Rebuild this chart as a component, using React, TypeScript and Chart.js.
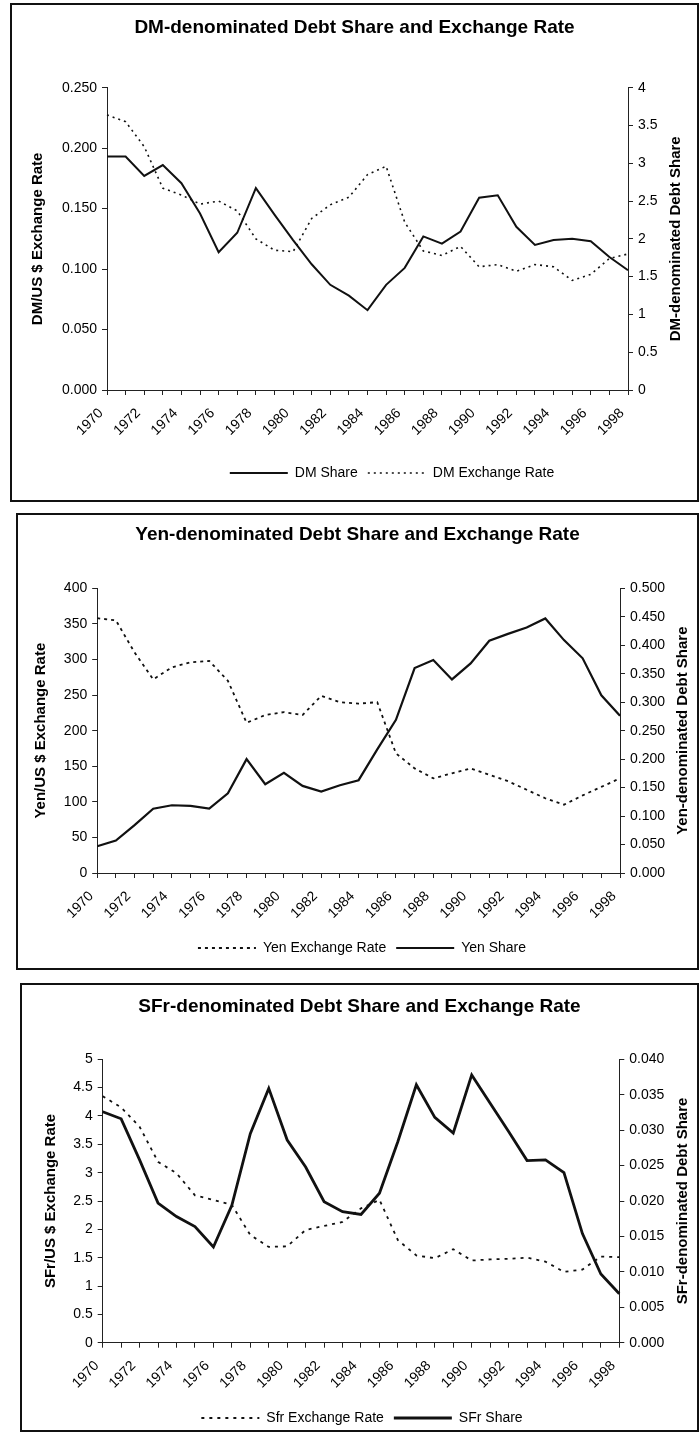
import React, { useEffect, useRef } from 'react';
import { Chart, registerables } from 'chart.js';

Chart.register(...registerables);

const FONT = '"Liberation Sans", Arial, Helvetica, sans-serif';

// ---------- data ----------
const years = [
  '1970', '1971', '1972', '1973', '1974', '1975', '1976', '1977', '1978', '1979',
  '1980', '1981', '1982', '1983', '1984', '1985', '1986', '1987', '1988', '1989',
  '1990', '1991', '1992', '1993', '1994', '1995', '1996', '1997', '1998',
];
// every other year is labelled on the x axis
const shownYearLabels = ['1970', '1972', '1974', '1976', '1978', '1980', '1982', '1984', '1986', '1988', '1990', '1992', '1994', '1996', '1998'];

const dmShare = [0.193, 0.193, 0.177, 0.186, 0.171, 0.146, 0.114, 0.130, 0.167, 0.145, 0.124, 0.104, 0.087, 0.078, 0.066, 0.087, 0.101, 0.127, 0.121, 0.131, 0.159, 0.161, 0.135, 0.120, 0.124, 0.125, 0.123, 0.110, 0.099];
const dmExchangeRate = [3.64, 3.55, 3.22, 2.67, 2.58, 2.46, 2.50, 2.37, 2.00, 1.85, 1.83, 2.27, 2.45, 2.55, 2.85, 2.96, 2.22, 1.84, 1.78, 1.90, 1.63, 1.66, 1.57, 1.66, 1.63, 1.45, 1.53, 1.74, 1.80];

const yenExchangeRate = [358, 355, 310, 272, 289, 296, 298, 270, 211, 222, 226, 222, 249, 240, 238, 240, 168, 147, 133, 140, 147, 138, 129, 117, 105, 96, 109, 121, 133];
const yenShare = [0.047, 0.057, 0.084, 0.113, 0.119, 0.118, 0.113, 0.140, 0.200, 0.156, 0.176, 0.153, 0.143, 0.154, 0.163, 0.217, 0.269, 0.360, 0.374, 0.340, 0.368, 0.408, 0.420, 0.431, 0.447, 0.409, 0.377, 0.312, 0.276];

const sfrExchangeRate = [4.35, 4.15, 3.81, 3.19, 2.99, 2.60, 2.52, 2.43, 1.90, 1.69, 1.70, 1.99, 2.06, 2.13, 2.37, 2.52, 1.81, 1.54, 1.49, 1.65, 1.45, 1.47, 1.48, 1.50, 1.43, 1.25, 1.29, 1.52, 1.51];
const sfrShare = [0.0326, 0.0316, 0.0258, 0.0197, 0.0178, 0.0164, 0.0135, 0.0194, 0.0295, 0.0359, 0.0286, 0.0248, 0.0199, 0.0185, 0.0181, 0.0211, 0.0284, 0.0364, 0.0318, 0.0296, 0.0378, 0.0338, 0.0298, 0.0257, 0.0258, 0.0240, 0.0154, 0.0097, 0.0069];

// ---------- styles / layout ----------
const INK = '#111';
const SOLID = (w: number) => ({ borderColor: INK, borderWidth: w, borderDash: [] as number[] });
const DOTTED = (w: number, d: number[]) => ({ borderColor: INK, borderWidth: w, borderDash: d });

type Spec = {
  key: string;
  box: { x: number; y: number; w: number; h: number };
  plot: { l: number; r: number; t: number; b: number };
  titleY: number;
  leftTitleX: number;
  rightTitleX: number;
  legendX: number;
  legendY: number;
  title: string;
  leftTitle: string;
  rightTitle: string;
  left: { min: number; max: number; step: number; dec: number | null };
  right: { min: number; max: number; step: number; dec: number | null };
  datasets: any[];
};

const specs: Spec[] = [
  {
    key: 'dm',
    box: { x: 10, y: 3, w: 689, h: 499 },
    plot: { l: 107, r: 628, t: 87.7, b: 390 },
    titleY: 28, leftTitleX: 38, rightTitleX: 676, legendX: 392, legendY: 473,
    title: 'DM-denominated Debt Share and Exchange Rate',
    leftTitle: 'DM/US $ Exchange Rate',
    rightTitle: 'DM-denominated Debt Share',
    left: { min: 0, max: 0.25, step: 0.05, dec: 3 },
    right: { min: 0, max: 4, step: 0.5, dec: null },
    datasets: [
      { label: 'DM Share', data: dmShare, yAxisID: 'y', ...SOLID(2) },
      { label: 'DM Exchange Rate', data: dmExchangeRate, yAxisID: 'y1', ...DOTTED(1.6, [2, 4]) },
    ],
  },
  {
    key: 'yen',
    box: { x: 16, y: 513, w: 683, h: 457 },
    plot: { l: 97.2, r: 620, t: 588.3, b: 873 },
    titleY: 535, leftTitleX: 41, rightTitleX: 683, legendX: 362, legendY: 948,
    title: 'Yen-denominated Debt Share and Exchange Rate',
    leftTitle: 'Yen/US $ Exchange Rate',
    rightTitle: 'Yen-denominated Debt Share',
    left: { min: 0, max: 400, step: 50, dec: null },
    right: { min: 0, max: 0.5, step: 0.05, dec: 3 },
    datasets: [
      { label: 'Yen Exchange Rate', data: yenExchangeRate, yAxisID: 'y', ...DOTTED(1.8, [3, 4]) },
      { label: 'Yen Share', data: yenShare, yAxisID: 'y1', ...SOLID(2.2) },
    ],
  },
  {
    key: 'sfr',
    box: { x: 20, y: 983, w: 679, h: 449 },
    plot: { l: 102.7, r: 619.3, t: 1059.3, b: 1342.7 },
    titleY: 1007, leftTitleX: 51, rightTitleX: 683, legendX: 362, legendY: 1418,
    title: 'SFr-denominated Debt Share and Exchange Rate',
    leftTitle: 'SFr/US $ Exchange Rate',
    rightTitle: 'SFr-denominated Debt Share',
    left: { min: 0, max: 5, step: 0.5, dec: null },
    right: { min: 0, max: 0.04, step: 0.005, dec: 3 },
    datasets: [
      { label: 'Sfr Exchange Rate', data: sfrExchangeRate, yAxisID: 'y', ...DOTTED(1.8, [3, 5]) },
      { label: 'SFr Share', data: sfrShare, yAxisID: 'y1', ...SOLID(2.8) },
    ],
  },
];

const BW = 2; // panel border width

function buildConfig(s: Spec): any {
  const cx = s.box.x + BW;
  const cy = s.box.y + BW;
  const W = s.box.w - 2 * BW;
  const H = s.box.h - 2 * BW;
  const L = s.plot.l - cx;
  const R = s.plot.r - cx;
  const T = s.plot.t - cy;
  const B = s.plot.b - cy;

  const titleSize = 19;
  const titleLH = titleSize * 1.2;
  const tPadTop = s.titleY - cy - titleLH / 2;
  const tPadBottom = T - tPadTop - titleLH;

  const legendFont = 14;
  const legendPad = 10;
  const legendH = legendFont + legendPad + 10;
  const xAxisH = H - legendH - B;
  const legendDy = (s.legendY - cy) - (H - legendH + legendPad + legendFont / 2);
  const legendDx = s.legendX - (cx + W / 2);

  const fmt = (dec: number | null) => (v: any) => (dec === null ? String(Number(Number(v).toFixed(6))) : Number(v).toFixed(dec));

  const extras = {
    id: 'panelExtras_' + s.key,
    afterLayout(chart: any) {
      const lg = chart.legend;
      if (lg) {
        lg.left += legendDx;
        lg.right += legendDx;
        lg.top += legendDy;
        lg.bottom += legendDy;
      }
    },
    afterDraw(chart: any) {
      const ctx = chart.ctx;
      const a = chart.chartArea;
      const yc = (a.top + a.bottom) / 2;
      const drawV = (text: string, x: number) => {
        ctx.save();
        ctx.font = `bold 15px ${FONT}`;
        ctx.fillStyle = '#000';
        ctx.textAlign = 'center';
        ctx.textBaseline = 'middle';
        ctx.translate(x - cx, yc);
        ctx.rotate(-Math.PI / 2);
        ctx.fillText(text, 0, 0);
        ctx.restore();
      };
      drawV(s.leftTitle, s.leftTitleX);
      drawV(s.rightTitle, s.rightTitleX);
    },
  };

  const axisCommon = {
    border: { display: true, color: '#222', width: 1 },
    grid: { drawOnChartArea: false, drawTicks: true, tickLength: 5, color: '#222', tickColor: '#222' },
  };

  return {
    type: 'line',
    data: {
      labels: years,
      datasets: s.datasets.map((d) => ({ ...d, pointRadius: 0, pointHoverRadius: 0, fill: false, tension: 0 })),
    },
    options: {
      responsive: false,
      animation: false,
      devicePixelRatio: 1,
      layout: { padding: { left: 0, right: 0, top: 0, bottom: 0 } },
      plugins: {
        title: {
          display: true,
          text: s.title,
          color: '#000',
          font: { family: FONT, size: titleSize, weight: 'bold', lineHeight: 1.2 },
          padding: { top: tPadTop, bottom: tPadBottom },
        },
        legend: {
          display: true,
          position: 'bottom',
          labels: {
            color: '#000',
            font: { family: FONT, size: legendFont },
            usePointStyle: true,
            pointStyle: 'line',
            pointStyleWidth: 58,
            padding: legendPad,
            generateLabels: (chart: any) => {
              const base = Chart.defaults.plugins.legend.labels.generateLabels(chart);
              return base.map((it: any) => {
                const ds = chart.data.datasets[it.datasetIndex];
                return {
                  ...it,
                  pointStyle: 'line',
                  lineDash: ds.borderDash || [],
                  lineWidth: ds.borderWidth,
                  strokeStyle: INK,
                  fillStyle: INK,
                  fontColor: '#000',
                };
              });
            },
          },
        },
        tooltip: { enabled: false },
      },
      scales: {
        x: {
          type: 'category',
          offset: false,
          ...axisCommon,
          ticks: {
            autoSkip: false,
            minRotation: 45,
            maxRotation: 45,
            padding: 10,
            labelOffset: -6,
            color: '#000',
            font: { family: FONT, size: 14 },
            callback: (_v: any, i: number) => (shownYearLabels.includes(years[i]) ? years[i] : ''),
          },
          afterFit: (sc: any) => { sc.height = xAxisH; },
        },
        y: {
          type: 'linear',
          position: 'left',
          min: s.left.min,
          max: s.left.max,
          ...axisCommon,
          ticks: { stepSize: s.left.step, padding: 5, color: '#000', font: { family: FONT, size: 14 }, callback: fmt(s.left.dec) },
          afterFit: (sc: any) => { sc.width = L; },
        },
        y1: {
          type: 'linear',
          position: 'right',
          min: s.right.min,
          max: s.right.max,
          ...axisCommon,
          ticks: { stepSize: s.right.step, padding: 5, color: '#000', font: { family: FONT, size: 14 }, callback: fmt(s.right.dec) },
          afterFit: (sc: any) => { sc.width = W - R; },
        },
      },
    },
    plugins: [extras],
  };
}

function Panel({ spec }: { spec: Spec }) {
  const ref = useRef<HTMLCanvasElement | null>(null);
  useEffect(() => {
    if (!ref.current) return;
    const chart = new Chart(ref.current, buildConfig(spec));
    return () => chart.destroy();
  }, [spec]);
  const W = spec.box.w - 2 * BW;
  const H = spec.box.h - 2 * BW;
  return (
    <>
      <div
        style={{
          position: 'absolute',
          left: spec.box.x,
          top: spec.box.y,
          width: spec.box.w,
          height: spec.box.h,
          border: `${BW}px solid #111`,
          boxSizing: 'border-box',
        }}
      />
      <canvas
        ref={ref}
        width={W}
        height={H}
        style={{ position: 'absolute', left: spec.box.x + BW, top: spec.box.y + BW, width: W, height: H, display: 'block' }}
      />
    </>
  );
}

export default function App() {
  return (
    <div style={{ position: 'absolute', left: 0, top: 0, width: 699, height: 1437, background: '#fff', overflow: 'hidden' }}>
      {specs.map((s) => (
        <Panel key={s.key} spec={s} />
      ))}
    </div>
  );
}
